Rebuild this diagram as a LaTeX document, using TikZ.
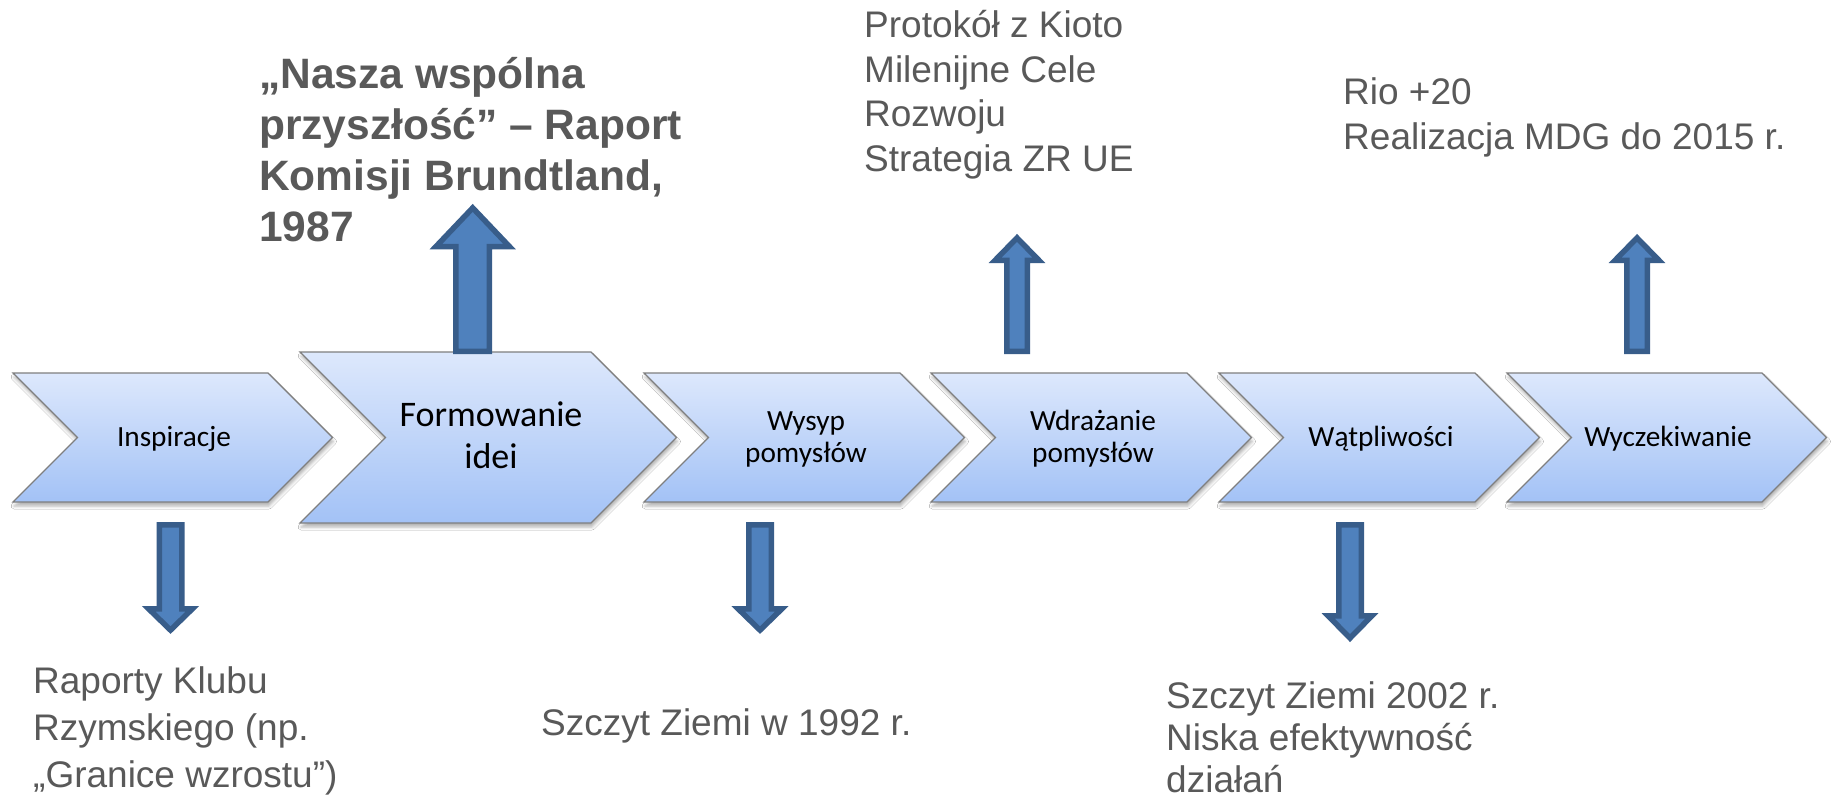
\documentclass[tikz,border=0pt]{standalone}
\usepackage{fontspec}
\setmainfont{Liberation Sans}
\newfontfamily\chevfont{Carlito}
\usetikzlibrary{shadows.blur}

\definecolor{chevtop}{HTML}{DDE8FC}
\definecolor{chevbot}{HTML}{A3C2F6}
\definecolor{chevline}{HTML}{7F7F7F}
\definecolor{arrowfill}{HTML}{4F81BD}
\definecolor{arrowline}{HTML}{385D8A}
\definecolor{notegray}{HTML}{595959}

\tikzset{
  chevron/.style={draw=chevline, line width=1.2pt, top color=chevtop, bottom color=chevbot,
    blur shadow={shadow xshift=1pt, shadow yshift=-4pt, shadow blur radius=3pt, shadow opacity=30}},
  chevlabel/.style={font=\chevfont\fontsize{29.3}{32}\selectfont, text=black, inner sep=0pt, align=center, anchor=base},
  blockarrow/.style={fill=arrowfill, draw=arrowline, line width=5.5pt, line join=miter},
  note/.style={font=\fontsize{37}{44.5}\selectfont, text=notegray, inner sep=0pt, align=left, anchor=base west},
  lownote/.style={note, font=\fontsize{37}{47}\selectfont},
  bignote/.style={note, font=\bfseries\fontsize{42.5}{51}\selectfont},
}

% chevron: left x, top-right corner x, top y, bottom y, point depth
\newcommand{\chevronshape}[5]{%
  \path[chevron] (#1,#3) -- (#2,#3) -- (#2+#5,{(#3+#4)/2}) -- (#2,#4) -- (#1,#4)
    -- (#1+#5,{(#3+#4)/2}) -- cycle;}
% vertical block arrow: centre x, tail y, head base y, tip y, half shaft, half head
\newcommand{\blockarrowshape}[6]{%
  \draw[blockarrow] (#1-#5,#2) -- (#1-#5,#3) -- (#1-#6,#3) -- (#1,#4) -- (#1+#6,#3)
    -- (#1+#5,#3) -- (#1+#5,#2) -- cycle;}

\begin{document}
\begin{tikzpicture}[x=1pt,y=-1pt]
  \fill[white] (0,0) rectangle (1831,800);
  \useasboundingbox (0,0) rectangle (1831,800);

  % timeline of phases
  \chevronshape{13}{268}{373}{502}{64.5}
  \chevronshape{300}{591}{352}{523}{85.5}
  \chevronshape{644}{900}{373}{502}{64.5}
  \chevronshape{931}{1187}{373}{502}{64.5}
  \chevronshape{1219}{1475}{373}{502}{64.5}
  \chevronshape{1507}{1762}{373}{502}{64.5}

  % labels are anchored at the baseline of their last line
  \node[chevlabel] (c1) at (174,446) {Inspiracje};
  \node[chevlabel, font=\chevfont\fontsize{36}{41.5}\selectfont] (c2) at (491,468) {Formowanie\\idei};
  \node[chevlabel] (c3) at (806,462) {Wysyp\\pomysłów};
  \node[chevlabel] (c4) at (1093,462) {Wdrażanie\\pomysłów};
  \node[chevlabel] (c5) at (1381,446) {Wątpliwości};
  \node[chevlabel] (c6) at (1668,446) {Wyczekiwanie};

  % arrows pointing up
  \blockarrowshape{472.7}{351.3}{246.5}{207.9}{16.75}{36.7}
  \blockarrowshape{1017}{351.3}{260.3}{237.9}{10.25}{21.9}
  \blockarrowshape{1637}{351.3}{260.3}{237.9}{10.25}{21.9}
  % arrows pointing down
  \blockarrowshape{170.5}{524.8}{608.8}{630.1}{11.25}{21.9}
  \blockarrowshape{760}{524.8}{608.8}{630.1}{11.25}{21.9}
  \blockarrowshape{1350}{524.8}{615.8}{638.1}{11.25}{21.9}

  % events above the timeline
  \node[bignote] (t2) at (259,241) {„Nasza wspólna\\przyszłość” – Raport\\Komisji Brundtland,\\1987};
  \node[note] (t4) at (864,171) {Protokół z Kioto\\Milenijne Cele\\Rozwoju\\Strategia ZR UE};
  \node[note] (t6) at (1343,149) {Rio +20\\Realizacja MDG do 2015 r.};

  % events below the timeline
  \node[lownote] (b1) at (33,787) {Raporty Klubu\\Rzymskiego (np.\\„Granice wzrostu”)};
  \node[lownote] (b3) at (541,735) {Szczyt Ziemi w 1992 r.};
  \node[lownote, font=\fontsize{37}{42}\selectfont] (b5) at (1166,792) {Szczyt Ziemi 2002 r.\\Niska efektywność\\działań};
\end{tikzpicture}
\end{document}
